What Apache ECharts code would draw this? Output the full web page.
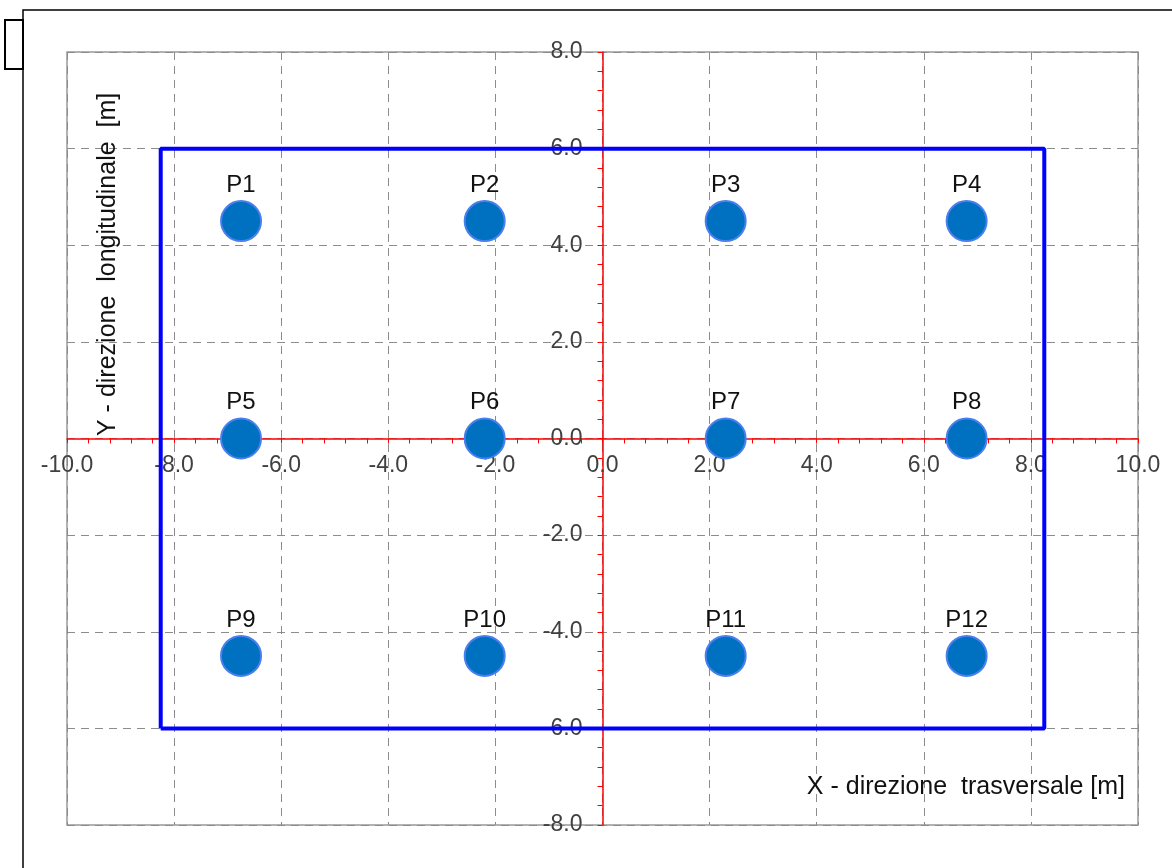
<!DOCTYPE html>
<html>
<head>
<meta charset="utf-8">
<script src="https://cdn.jsdelivr.net/npm/echarts@6/dist/echarts.min.js"></script>
<style>
  html, body { margin: 0; padding: 0; background: #fff; }
  #chart { width: 1172px; height: 868px; }
</style>
</head>
<body>
<div id="chart"></div>
<script>
  // pali (P1..P12)
  var pileNames = ['P1','P2','P3','P4','P5','P6','P7','P8','P9','P10','P11','P12'];
  var pileX = [-6.75, -2.2, 2.3, 6.8, -6.75, -2.2, 2.3, 6.8, -6.75, -2.2, 2.3, 6.8];
  var pileY = [4.5, 4.5, 4.5, 4.5, 0, 0, 0, 0, -4.5, -4.5, -4.5, -4.5];
  // plinto
  var footX = [-8.25, 8.25];
  var footY = [-6, 6];

  var fontFam = 'Arial, "Liberation Sans", sans-serif';

  var pileData = pileNames.map(function (n, i) {
    return { name: n, value: [pileX[i], pileY[i]] };
  });
  var footData = [
    [footX[0], footY[0]], [footX[0], footY[1]], [footX[1], footY[1]],
    [footX[1], footY[0]], [footX[0], footY[0]]
  ];

  function axisCommon(min, max, margin) {
    return {
      type: 'value', min: min, max: max, interval: 2,
      axisLine: { onZero: false, lineStyle: { color: '#ff0000', width: 1.5 } },
      axisTick: { show: true, length: 5, lineStyle: { color: '#ff0000' } },
      minorTick: { show: true, splitNumber: 5, length: 5, lineStyle: { color: '#ff0000' } },
      axisLabel: {
        margin: margin, fontSize: 23, color: '#404040', fontFamily: fontFam,
        formatter: function (v) { return v.toFixed(1); }
      },
      splitLine: { show: true, lineStyle: { color: '#8c8c8c', type: [8, 6], width: 1 } }
    };
  }

  var chart = echarts.init(document.getElementById('chart'));
  chart.setOption({
    animation: false,
    backgroundColor: '#fff',
    grid: {
      left: 67, right: 34, top: 52, bottom: 43,
      show: true, borderColor: '#999', borderWidth: 1.5
    },
    xAxis: axisCommon(-10, 10, 16),
    yAxis: axisCommon(-8, 8, 20),
    graphic: [
      { type: 'rect', shape: { x: 23, y: 10, width: 1160, height: 870 },
        style: { fill: 'none', stroke: '#000', lineWidth: 1.5 } },
      { type: 'rect', shape: { x: 5, y: 20, width: 18, height: 49 },
        style: { fill: '#fff', stroke: '#000', lineWidth: 2 } },
      { type: 'text', right: 47, top: 775, z: 10,
        style: { text: 'X - direzione  trasversale [m]', font: '25px ' + fontFam, fill: '#111' } },
      { type: 'text', x: 96, y: 436, rotation: Math.PI / 2, z: 10,
        style: { text: 'Y - direzione  longitudinale  [m]', font: '25px ' + fontFam, fill: '#111' } }
    ],
    series: [
      {
        type: 'line', data: footData, symbol: 'none', z: 3,
        lineStyle: { color: '#0000ff', width: 4 }
      },
      {
        type: 'scatter', data: pileData, symbolSize: 40, z: 4,
        itemStyle: { color: '#0070c0', opacity: 1, borderColor: '#4a7fee', borderWidth: 2 },
        label: {
          show: true, position: 'top', distance: 3, formatter: '{b}',
          fontSize: 24, color: '#111', fontFamily: fontFam
        }
      }
    ]
  });

  // sposta gli assi sull'origine (0,0) insieme alle etichette
  var origin = chart.convertToPixel({ gridIndex: 0 }, [0, 0]);
  var bottomY = 868 - 43;
  var leftX = 67;
  chart.setOption({
    xAxis: { offset: -(bottomY - origin[1]) },
    yAxis: { offset: -(origin[0] - leftX) }
  });
</script>
</body>
</html>
